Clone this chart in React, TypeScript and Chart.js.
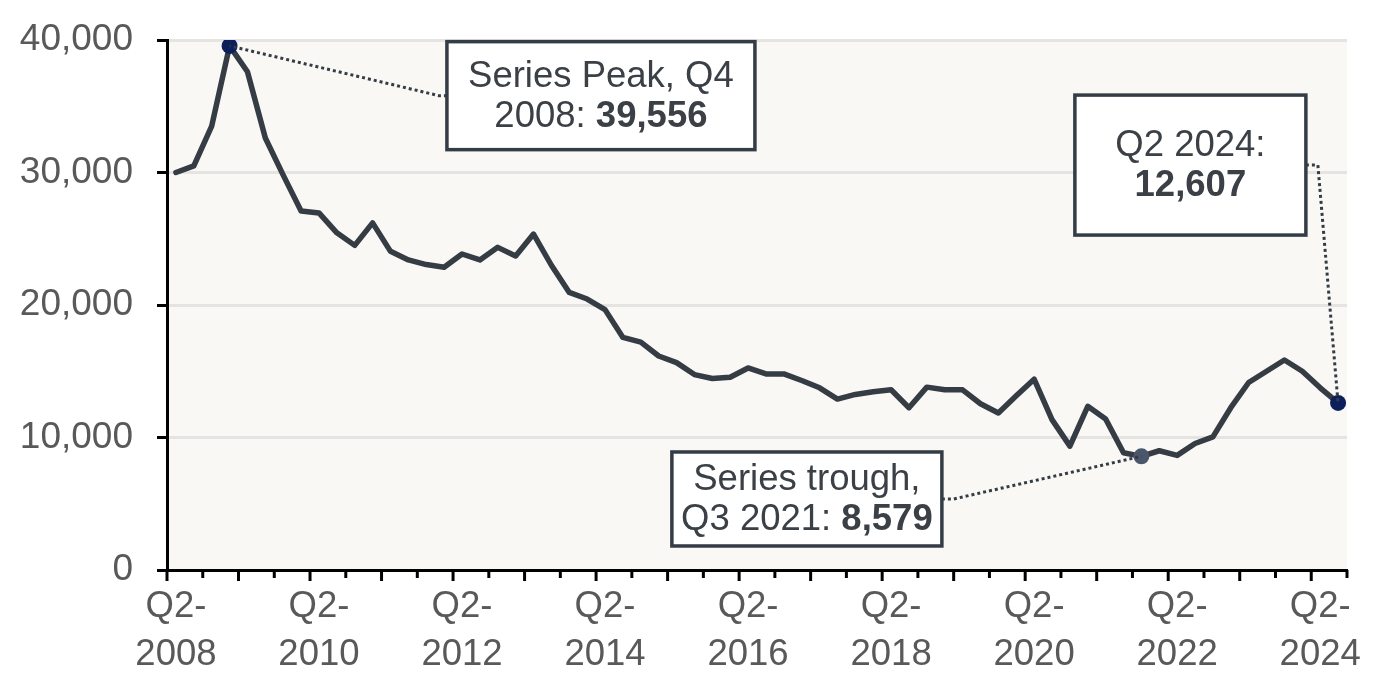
import React, { useEffect, useRef } from "react";
import { Chart, registerables } from "chart.js";

Chart.register(...registerables);

const quarters = [
  "Q1 2008", "Q2 2008", "Q3 2008", "Q4 2008",
  "Q1 2009", "Q2 2009", "Q3 2009", "Q4 2009",
  "Q1 2010", "Q2 2010", "Q3 2010", "Q4 2010",
  "Q1 2011", "Q2 2011", "Q3 2011", "Q4 2011",
  "Q1 2012", "Q2 2012", "Q3 2012", "Q4 2012",
  "Q1 2013", "Q2 2013", "Q3 2013", "Q4 2013",
  "Q1 2014", "Q2 2014", "Q3 2014", "Q4 2014",
  "Q1 2015", "Q2 2015", "Q3 2015", "Q4 2015",
  "Q1 2016", "Q2 2016", "Q3 2016", "Q4 2016",
  "Q1 2017", "Q2 2017", "Q3 2017", "Q4 2017",
  "Q1 2018", "Q2 2018", "Q3 2018", "Q4 2018",
  "Q1 2019", "Q2 2019", "Q3 2019", "Q4 2019",
  "Q1 2020", "Q2 2020", "Q3 2020", "Q4 2020",
  "Q1 2021", "Q2 2021", "Q3 2021", "Q4 2021",
  "Q1 2022", "Q2 2022", "Q3 2022", "Q4 2022",
  "Q1 2023", "Q2 2023", "Q3 2023", "Q4 2023",
  "Q1 2024", "Q2 2024",
];

const values = [
  30000, 30500, 33500, 39556,
  37600, 32600, 29800, 27100,
  26950, 25450, 24500, 26200,
  24050, 23400, 23050, 22850,
  23850, 23400, 24350, 23700,
  25350, 23000, 20950, 20450,
  19650, 17550, 17200, 16150,
  15650, 14750, 14450, 14550,
  15250, 14800, 14800, 14300,
  13750, 12900, 13250, 13450,
  13600, 12250, 13800, 13600,
  13600, 12550, 11850, 13150,
  14400, 11350, 9350, 12350,
  11400, 8850, 8579, 9000,
  8650, 9550, 10050, 12250,
  14150, 15000, 15850, 15000,
  13750, 12607,
];

const tickLabels = [
  "Q2-2008", "Q2-2010", "Q2-2012", "Q2-2014", "Q2-2016",
  "Q2-2018", "Q2-2020", "Q2-2022", "Q2-2024",
];
const labelEvery = 8;

const peakIndex = 3;
const troughIndex = 54;
const lastIndex = 65;

const FONT = "'Liberation Sans', Arial, sans-serif";
const FONT_SIZE = 36.5;
const AXIS_TEXT = "#595959";
const LINE_COLOR = "#353C44";
const BOX_BORDER = "#343C45";
const BOX_TEXT = "#3B4046";

const fmt = (v: number) => v.toLocaleString("en-US");

const markerColors: Record<number, string> = {
  [peakIndex]: "#0B1F5B",
  [troughIndex]: "#4A576A",
  [lastIndex]: "#0B1F5B",
};

type Part = { t: string; b?: boolean };
type Note = {
  index: number;
  lines: Part[][];
  cx: number; // category position of box centre
  cy: number; // value position of box centre
  w: number;
  h: number;
  side: "left" | "right";
};

const notes: Note[] = [
  {
    index: peakIndex,
    lines: [[{ t: "Series Peak, Q4" }], [{ t: "2008: " }, { t: fmt(values[peakIndex]), b: true }]],
    cx: 23.77,
    cy: 35800,
    w: 308,
    h: 108,
    side: "left",
  },
  {
    index: lastIndex,
    lines: [[{ t: "Q2 2024:" }], [{ t: fmt(values[lastIndex]), b: true }]],
    cx: 56.74,
    cy: 30560,
    w: 231,
    h: 140,
    side: "right",
  },
  {
    index: troughIndex,
    lines: [[{ t: "Series trough," }], [{ t: "Q3 2021: " }, { t: fmt(values[troughIndex]), b: true }]],
    cx: 35.29,
    cy: 5360,
    w: 270,
    h: 94,
    side: "right",
  },
];

const bgPlugin = {
  id: "plotBg",
  beforeDraw(chart: any) {
    const { ctx, chartArea } = chart;
    ctx.save();
    ctx.fillStyle = "#F9F8F5";
    ctx.fillRect(chartArea.left, chartArea.top, chartArea.right - chartArea.left, chartArea.bottom - chartArea.top);
    ctx.restore();
  },
};

const xTicksPlugin = {
  id: "xTicks",
  afterDraw(chart: any) {
    const x = chart.scales.x;
    const ctx = chart.ctx;
    const step = x.getPixelForValue(1) - x.getPixelForValue(0);
    const yAxis = chart.chartArea.bottom;
    ctx.save();
    ctx.strokeStyle = "#000";
    ctx.lineWidth = 3;
    for (let b = 0; b <= quarters.length; b += 2) {
      const px = x.getPixelForValue(0) - step / 2 + b * step;
      const len = b % 4 === 0 ? 11 : 8;
      ctx.beginPath();
      ctx.moveTo(px, yAxis);
      ctx.lineTo(px, yAxis + len);
      ctx.stroke();
    }
    ctx.restore();
  },
};

const notesPlugin = {
  id: "notes",
  afterDraw(chart: any) {
    const { ctx } = chart;
    const xs = chart.scales.x;
    const ys = chart.scales.y;
    const step = xs.getPixelForValue(1) - xs.getPixelForValue(0);
    ctx.save();
    notes.forEach((n) => {
      const cx = xs.getPixelForValue(0) + n.cx * step;
      const cy = ys.getPixelForValue(n.cy);
      const left = cx - n.w / 2;
      const top = cy - n.h / 2;
      const px = xs.getPixelForValue(n.index);
      const py = ys.getPixelForValue(values[n.index]);

      // leader line
      ctx.strokeStyle = BOX_BORDER;
      ctx.lineWidth = 3;
      ctx.setLineDash([3, 3]);
      ctx.beginPath();
      if (n.side === "left") {
        ctx.moveTo(left, cy);
        ctx.lineTo(left - 8, cy);
      } else {
        ctx.moveTo(left + n.w, cy);
        ctx.lineTo(left + n.w + 12, cy);
      }
      ctx.lineTo(px, py);
      ctx.stroke();
      ctx.setLineDash([]);

      // box
      ctx.fillStyle = "#FFFFFF";
      ctx.fillRect(left, top, n.w, n.h);
      ctx.lineWidth = 3.5;
      ctx.strokeStyle = BOX_BORDER;
      ctx.strokeRect(left, top, n.w, n.h);

      // text
      ctx.fillStyle = BOX_TEXT;
      ctx.textBaseline = "middle";
      ctx.textAlign = "left";
      const lineGap = 40;
      n.lines.forEach((parts, li) => {
        const ly = cy + (li - (n.lines.length - 1) / 2) * lineGap + 1;
        let total = 0;
        parts.forEach((p) => {
          ctx.font = `${p.b ? "bold " : ""}${FONT_SIZE}px ${FONT}`;
          total += ctx.measureText(p.t).width;
        });
        let tx = cx - total / 2;
        parts.forEach((p) => {
          ctx.font = `${p.b ? "bold " : ""}${FONT_SIZE}px ${FONT}`;
          ctx.fillText(p.t, tx, ly);
          tx += ctx.measureText(p.t).width;
        });
      });
    });
    ctx.restore();
  },
};

export default function App() {
  const canvasRef = useRef<HTMLCanvasElement | null>(null);

  useEffect(() => {
    document.body.style.margin = "0";
    const canvas = canvasRef.current;
    if (!canvas) return;
    const chart = new Chart(canvas, {
      type: "line",
      data: {
        labels: quarters,
        datasets: [
          {
            data: values,
            borderColor: LINE_COLOR,
            borderWidth: 5.5,
            borderJoinStyle: "round",
            borderCapStyle: "round",
            tension: 0,
            fill: false,
            pointRadius: (c: any) => (markerColors[c.dataIndex] ? 8 : 0),
            pointHoverRadius: (c: any) => (markerColors[c.dataIndex] ? 8 : 0),
            pointBackgroundColor: (c: any) => markerColors[c.dataIndex] || LINE_COLOR,
            pointBorderColor: (c: any) => markerColors[c.dataIndex] || LINE_COLOR,
            pointBorderWidth: 0,
          },
        ],
      },
      options: {
        animation: false,
        responsive: true,
        maintainAspectRatio: false,
        events: [],
        layout: { padding: { top: 40, right: 45, left: 0, bottom: 0 } },
        plugins: {
          legend: { display: false },
          tooltip: { enabled: false },
          title: { display: false },
        },
        scales: {
          x: {
            type: "category",
            offset: true,
            grid: { display: false, drawTicks: false },
            border: { display: true, color: "#000000", width: 3 },
            ticks: {
              autoSkip: false,
              maxRotation: 0,
              minRotation: 0,
              padding: 13,
              color: AXIS_TEXT,
              font: { family: FONT, size: FONT_SIZE, lineHeight: 1.32 },
              callback: (_v: any, i: number) => {
                if (i % labelEvery !== 0) return null;
                const lab = tickLabels[i / labelEvery];
                if (!lab) return null;
                const k = lab.indexOf("-");
                return [lab.slice(0, k + 1), lab.slice(k + 1)];
              },
            },
            afterFit: (s: any) => {
              s.height = 126;
              s.paddingLeft = 0;
              s.paddingRight = 0;
            },
          },
          y: {
            min: 0,
            max: 40000,
            grid: {
              color: "#E5E4E2",
              lineWidth: 3,
              drawTicks: true,
              tickLength: 10,
              tickColor: "#000000",
              tickWidth: 3,
            },
            border: { display: true, color: "#000000", width: 3 },
            ticks: {
              stepSize: 10000,
              padding: 24,
              color: AXIS_TEXT,
              font: { family: FONT, size: FONT_SIZE + 0.5 },
              callback: (v: any) => fmt(Number(v)),
            },
            afterFit: (s: any) => {
              s.width = 167;
              s.paddingTop = 0;
              s.paddingBottom = 0;
            },
          },
        },
      },
      plugins: [bgPlugin, xTicksPlugin, notesPlugin],
    } as any);
    return () => chart.destroy();
  }, []);

  return (
    <div style={{ width: 1392, height: 696, position: "relative", background: "#fff" }}>
      <canvas ref={canvasRef} />
    </div>
  );
}
